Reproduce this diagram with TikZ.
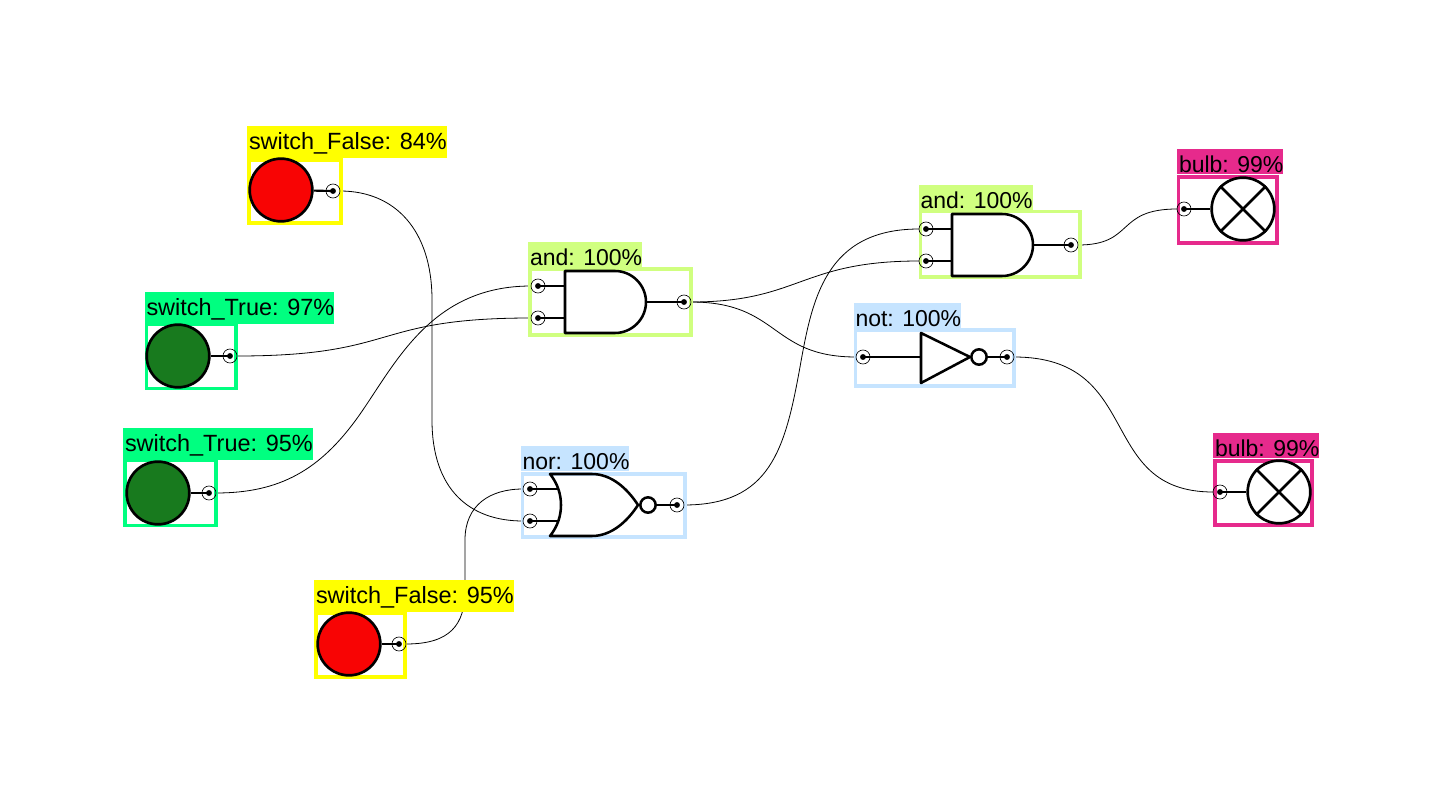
\documentclass[tikz,border=0pt]{standalone}
\usepackage{fontspec}
\setmainfont{Liberation Sans}
\usetikzlibrary{backgrounds}

\definecolor{labyellow}{RGB}{255,255,0}
\definecolor{labgreen}{RGB}{0,255,128}
\definecolor{labolive}{RGB}{208,255,128}
\definecolor{labblue}{RGB}{198,228,255}
\definecolor{labpink}{RGB}{230,42,140}
\definecolor{lampred}{RGB}{248,4,4}
\definecolor{lampgreen}{RGB}{24,122,30}

\begin{document}
\begin{tikzpicture}[
    x=0.75pt, y=-0.75pt,
    frame/.style={rectangle, draw, fill=white, line width=2.6pt, anchor=north west, inner sep=0pt, outer sep=0pt},
    tag/.style={rectangle, anchor=north west, inner sep=0pt, outer sep=0pt, text height=17.25pt, text depth=1.5pt, font=\fontsize{17.25}{20}\selectfont, text=black, execute at begin node={\kern1.5pt}},
    taglow/.style={tag, text depth=6.75pt, font=\fontsize{17.6}{20}\selectfont},
    term/.style={circle, draw, line width=0.5pt, minimum size=10.5pt, inner sep=0pt, outer sep=0pt, path picture={\fill (path picture bounding box.center) circle (2.2pt);}},
    lamp/.style={circle, draw, line width=2pt, minimum size=47pt, inner sep=0pt},
    bubble/.style={circle, draw, line width=1.9pt, minimum size=11.5pt, inner sep=0pt},
    gate/.style={line width=1.9pt, line join=round},
    stub/.style={line width=1.6pt},
    wire/.style={line width=0.6pt}
]
\useasboundingbox (0,0) rectangle (1440,810);

% Frames
\node (framea) [frame, draw=labyellow, minimum width=69pt, minimum height=47.25pt] at (249,160) {};
\node (frameb) [frame, draw=labgreen, minimum width=67.1pt, minimum height=48pt] at (146.5,324.5) {};
\node (framec) [frame, draw=labgreen, minimum width=68.25pt, minimum height=48.75pt] at (125,460.5) {};
\node (framed) [frame, draw=labyellow, minimum width=66.75pt, minimum height=48pt] at (316,613) {};
\node (framee) [frame, draw=labolive, minimum width=120.75pt, minimum height=49.5pt] at (530,269) {};
\node (framef) [frame, draw=labolive, minimum width=119.6pt, minimum height=49.1pt] at (920.5,211.5) {};
\node (frameg) [frame, draw=labblue, minimum width=121.9pt, minimum height=47.25pt] at (522.5,474) {};
\node (frameh) [frame, draw=labblue, minimum width=118.9pt, minimum height=42pt] at (855.5,330) {};
\node (framei) [frame, draw=labpink, minimum width=73.9pt, minimum height=49.5pt] at (1178.5,177) {};
\node (framej) [frame, draw=labpink, minimum width=72.75pt, minimum height=48pt] at (1215,461) {};

% Labels
\node (taga) [taglow, fill=labyellow] at (247,126) {switch\_False: 84\%};
\node (tagb) [taglow, fill=labgreen] at (144.5,292) {switch\_True: 97\%};
\node (tagc) [taglow, fill=labgreen] at (123,428) {switch\_True: 95\%};
\node (tagd) [taglow, fill=labyellow] at (314,580) {switch\_False: 95\%};
\node (tage) [tag, fill=labolive] at (528,242) {and: 100\%};
\node (tagf) [tag, fill=labolive] at (918.5,185) {and: 100\%};
\node (tagg) [tag, fill=labblue] at (520.5,446) {nor: 100\%};
\node (tagh) [tag, fill=labblue] at (853.5,303) {not: 100\%};
\node (tagi) [tag, fill=labpink] at (1177,149) {bulb: 99\%};
\node (tagj) [tag, fill=labpink] at (1213,433) {bulb: 99\%};

% Lamps
\node (lampa) [lamp, fill=lampred] at (281,190) {};
\node (lampb) [lamp, fill=lampgreen] at (178,356) {};
\node (lampc) [lamp, fill=lampgreen] at (158,493) {};
\node (lampd) [lamp, fill=lampred] at (349,644) {};
\node (bulba) [lamp, fill=white] at (1243,209) {};
\node (bulbb) [lamp, fill=white] at (1279,492) {};
\foreach \n in {bulba,bulbb} {
  \draw [gate] (\n.north west) -- (\n.south east);
  \draw [gate] (\n.north east) -- (\n.south west);
}

% Gates
\draw [gate] (565,271) -- (565,333) -- (615,333) .. controls (632,333) and (646,319) .. (646,302) .. controls (646,285) and (632,271) .. (615,271) -- cycle;
\draw [gate] (952,214) -- (952,276) -- (1002,276) .. controls (1019,276) and (1033,262) .. (1033,245) .. controls (1033,228) and (1019,214) .. (1002,214) -- cycle;
\draw [gate] (550,474) .. controls (558,484) and (561,495) .. (561,505) .. controls (561,515) and (558,526) .. (550,536) -- (592,536) .. controls (611,536) and (627,522) .. (638,505) .. controls (627,488) and (611,474) .. (592,474) -- cycle;
\draw [gate] (921,333) -- (921,383) -- (970,357) -- cycle;
\node (bubblea) [bubble] at (648,505) {};
\node (bubbleb) [bubble] at (979,357) {};

% Terminals
\node (terma) [term] at (333,191) {};
\node (termb) [term] at (230,356) {};
\node (termc) [term] at (209,493) {};
\node (termd) [term] at (399,644) {};
\node (terme) [term] at (538,286) {};
\node (termf) [term] at (538,318) {};
\node (termg) [term] at (684,302) {};
\node (termh) [term] at (926,229) {};
\node (termi) [term] at (926,261) {};
\node (termj) [term] at (1071,245) {};
\node (termk) [term] at (530,489) {};
\node (terml) [term] at (530,521) {};
\node (termm) [term] at (677,505) {};
\node (termn) [term] at (863,357) {};
\node (termo) [term] at (1007,357) {};
\node (termp) [term] at (1184,209) {};
\node (termq) [term] at (1220,492) {};

% Stubs
\draw [stub] (lampa) -- (terma.center);
\draw [stub] (lampb) -- (termb.center);
\draw [stub] (lampc) -- (termc.center);
\draw [stub] (lampd) -- (termd.center);
\draw [stub] (terme.center) -- (565,286);
\draw [stub] (termf.center) -- (565,318);
\draw [stub] (646,302) -- (termg.center);
\draw [stub] (termh.center) -- (952,229);
\draw [stub] (termi.center) -- (952,261);
\draw [stub] (1033,245) -- (termj.center);
\draw [stub] (termk.center) -- (557,489);
\draw [stub] (terml.center) -- (557,521);
\draw [stub] (bubblea) -- (termm.center);
\draw [stub] (termn.center) -- (921,357);
\draw [stub] (bubbleb) -- (termo.center);
\draw [stub] (termp.center) -- (bulba);
\draw [stub] (termq.center) -- (bulbb);

% Wires
\begin{scope}[on background layer]
\draw [wire] (terma) .. controls (395,191) and (432,230) .. (432,300) -- (432,420) .. controls (432,490) and (470,521) .. (terml);
\draw [wire] (termb) .. controls (400,356) and (370,318) .. (termf);
\draw [wire] (termc) .. controls (280,493) and (320,470) .. (358,417) .. controls (395,365) and (430,286) .. (terme);
\draw [wire] (termd) .. controls (450,644) and (465,625) .. (465,590) -- (465,540) .. controls (465,505) and (490,489) .. (termk);
\draw [wire] (termg) .. controls (800,302) and (800,261) .. (termi);
\draw [wire] (termg) .. controls (780,302) and (770,357) .. (termn);
\draw [wire] (termm) .. controls (770,505) and (785,450) .. (800,367) .. controls (812,300) and (825,229) .. (termh);
\draw [wire] (termj) .. controls (1135,245) and (1115,209) .. (termp);
\draw [wire] (termo) .. controls (1145,357) and (1095,492) .. (termq);
\end{scope}

\end{tikzpicture}
\end{document}
